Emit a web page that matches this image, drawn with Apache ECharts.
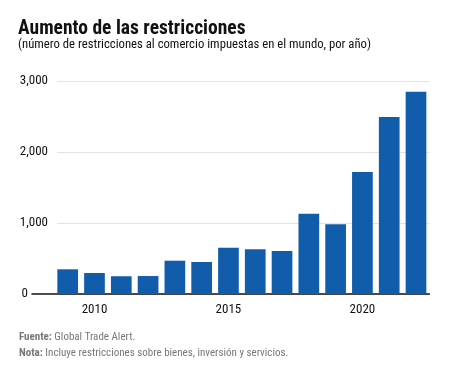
<!DOCTYPE html>
<html><head><meta charset="utf-8">
<script src="https://cdn.jsdelivr.net/npm/echarts@6/dist/echarts.min.js"></script>
<style>html,body{margin:0;padding:0;background:#fff}#c{width:456px;height:371px}</style>
</head><body><div id="c"></div>
<script>
const years = ['2009','2010','2011','2012','2013','2014','2015','2016','2017','2018','2019','2020','2021','2022'];
const restricciones = [348, 296, 250, 253, 469, 451, 650, 629, 606, 1131, 982, 1718, 2493, 2849];
const yTicks = [0, 1000, 2000, 3000];
const xLabelYears = ['2010','2015','2020'];

const FONT = '"Liberation Sans Narrow", "Roboto Condensed", "Open Sans", sans-serif';
const chart = echarts.init(document.getElementById('c'));
chart.setOption({
  animation: false,
  backgroundColor: '#fff',
  textStyle: { fontFamily: FONT },
  title: [
    { text: 'Aumento de las restricciones', left: 18, top: 19, padding: 0,
      textStyle: { fontFamily: FONT, fontWeight: 'bold', fontSize: 19.5, lineHeight: 20, color: '#111' } },
    { text: '(número de restricciones al comercio impuestas en el mundo, por año)', left: 18, top: 38, padding: 0,
      textStyle: { fontFamily: FONT, fontWeight: 'normal', fontSize: 12.7, lineHeight: 14, color: '#111' } },
    { text: '{b|Fuente:} Global Trade Alert.\n{b|Nota:} Incluye restricciones sobre bienes, inversión y servicios.',
      left: 19, top: 329, padding: 0,
      textStyle: { fontFamily: FONT, fontSize: 11, fontWeight: 'normal', color: '#777', lineHeight: 16,
        rich: { b: { fontFamily: FONT, fontSize: 11, fontWeight: 'bold', color: '#777' } } } }
  ],
  grid: [
    { left: 32, right: 26.6, top: 81, bottom: 77 },
    { left: 54.3, right: 26.6, top: 81, bottom: 77 },
    { left: 57, right: 26.6, top: 81, bottom: 77 }
  ],
  xAxis: [
    { gridIndex: 0, type: 'value', min: 0, max: 1, show: true,
      axisLine: { show: true, onZero: false, lineStyle: { color: '#111', width: 1.5 } },
      axisTick: { show: false }, axisLabel: { show: false }, splitLine: { show: false } },
    { gridIndex: 1, type: 'category', data: years, boundaryGap: true,
      axisLine: { show: false }, axisTick: { show: false },
      axisLabel: { fontFamily: FONT, fontSize: 13, color: '#111', margin: 9,
        interval: (i, v) => xLabelYears.indexOf(v) >= 0 } },
    { gridIndex: 2, type: 'value', min: 0, max: 1, show: false }
  ],
  yAxis: [
    { gridIndex: 0, type: 'value', min: 0, max: 3000, show: false },
    { gridIndex: 1, type: 'value', min: 0, max: 3000, show: false },
    { gridIndex: 2, type: 'value', min: 0, max: 3000, interval: 1000,
      axisLine: { show: false }, axisTick: { show: false },
      axisLabel: { fontFamily: FONT, fontSize: 13, color: '#111', margin: 9,
        formatter: v => yTicks.indexOf(v) < 0 ? '' : (v === 0 ? '{z|0}' : v.toLocaleString('en-US')),
        rich: { z: { fontFamily: FONT, fontSize: 13, color: '#111', padding: [0, 20, 0, 0] } } },
      splitLine: { show: true, lineStyle: { color: '#e3e3e3', width: 1 } } }
  ],
  series: [
    { type: 'bar', xAxisIndex: 1, yAxisIndex: 1, data: restricciones, barWidth: 20.7,
      itemStyle: { color: '#125dab' }, z: 3 }
  ]
});
</script></body></html>
